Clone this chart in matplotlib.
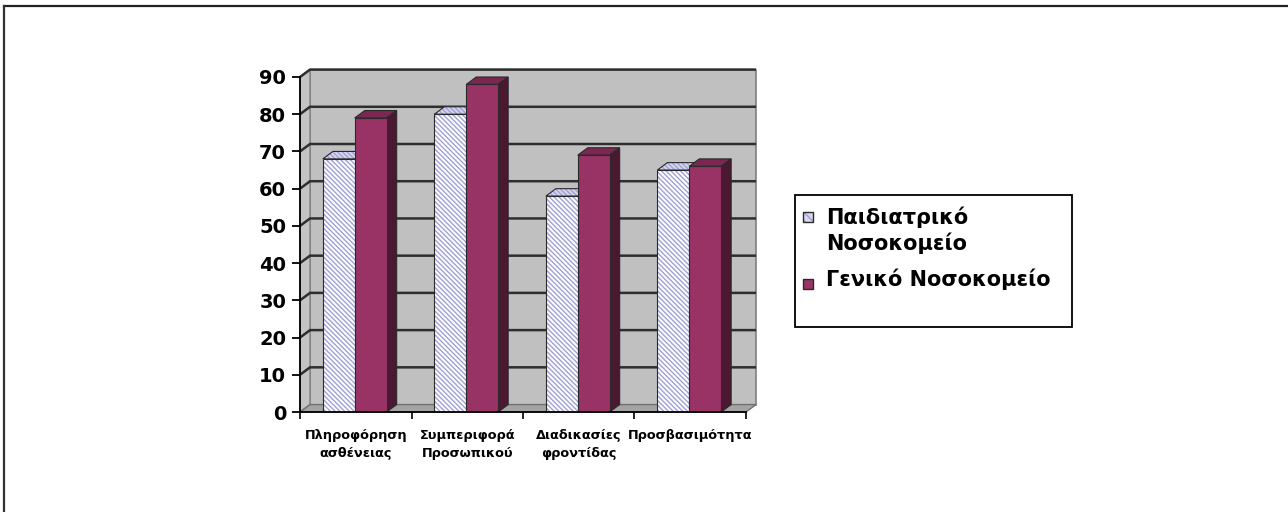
import matplotlib.pyplot as plt
from matplotlib.patches import Polygon, Rectangle
from matplotlib.lines import Line2D

categories = ["Πληροφόρηση\nασθένειας", "Συμπεριφορά\nΠροσωπικού",
              "Διαδικασίες\nφροντίδας", "Προσβασιμότητα"]
series_names = ["Παιδιατρικό\nΝοσοκομείο", "Γενικό Νοσοκομείο"]
paediatric = [68, 80, 58, 65]
general = [79, 88, 69, 66]
y_ticks = list(range(0, 100, 10))

W, H = 1288, 512
DX, DY = 0.09, 2.0          # depth offset of the 3D effect (data units)
BAR_W = 0.286
GAP = 0.205
HATCH = "\\" * 7

PAED_HATCH = "#a0a0d6"
GEN_FRONT, GEN_TOP, GEN_SIDE = "#993366", "#7a2852", "#4b1832"
EDGE = "#2a2a2a"


def fx(px):
    return px / W


def fy(py):
    return 1 - py / H


fig = plt.figure(figsize=(W / 100, H / 100), dpi=100)
ax = fig.add_axes([fx(300), fy(412), fx(746) - fx(300), fy(77) - fy(412)])
ax.set_xlim(0, 4)
ax.set_ylim(0, 90)
ax.patch.set_visible(False)

n = len(categories)
ymax = y_ticks[-1]

# walls and floor
ax.add_patch(Rectangle((DX, DY), n, ymax, fc="#c0c0c0", ec="#808080", lw=1.2,
                       zorder=0.5, clip_on=False))
ax.add_patch(Polygon([(0, 0), (DX, DY), (DX, ymax + DY), (0, ymax)], fc="#c4c4c4",
                     ec="#808080", lw=1.0, zorder=0.6, clip_on=False))
for v in y_ticks[1:]:
    ax.plot([0, DX, n + DX], [v, v + DY, v + DY], color="#2e2e2e", lw=1.8,
            zorder=1, clip_on=False, solid_capstyle="butt")
ax.add_patch(Polygon([(0, 0), (n, 0), (n + DX, DY), (DX, DY)], fc="#a4a4a4",
                     ec="#707070", lw=1.0, zorder=1.5, clip_on=False))


def add_faces(x0, h, top_kw, side_kw, z):
    top = [(x0, h), (x0 + BAR_W, h), (x0 + BAR_W + DX, h + DY), (x0 + DX, h + DY)]
    side = [(x0 + BAR_W, 0), (x0 + BAR_W + DX, DY), (x0 + BAR_W + DX, h + DY),
            (x0 + BAR_W, h)]
    ax.add_patch(Polygon(side, zorder=z, clip_on=False, **side_kw))
    ax.add_patch(Polygon(top, zorder=z, clip_on=False, **top_kw))
    for poly in (side, top):
        ax.add_patch(Polygon(poly, fill=False, ec=EDGE, lw=0.8, zorder=z + 0.1,
                             clip_on=False))


paed_x = [i + GAP for i in range(n)]
gen_x = [i + GAP + BAR_W for i in range(n)]

for i in range(n):
    add_faces(paed_x[i], paediatric[i],
              dict(fc="#d6d6ee", ec=PAED_HATCH, lw=0, hatch=HATCH),
              dict(fc="#d6d6ee", ec=PAED_HATCH, lw=0, hatch=HATCH), 3)
    add_faces(gen_x[i], general[i],
              dict(fc=GEN_TOP, lw=0), dict(fc=GEN_SIDE, lw=0), 5)

ax.bar(paed_x, paediatric, BAR_W, align="edge", color="white",
       edgecolor=PAED_HATCH, linewidth=0, hatch=HATCH, zorder=4)
ax.bar(paed_x, paediatric, BAR_W, align="edge", fill=False,
       edgecolor=EDGE, linewidth=0.8, zorder=4.1)
ax.bar(gen_x, general, BAR_W, align="edge", color=GEN_FRONT,
       edgecolor=EDGE, linewidth=0.8, zorder=6)

# axes
for s in ("top", "right"):
    ax.spines[s].set_visible(False)
for s in ("left", "bottom"):
    ax.spines[s].set_linewidth(1.3)
    ax.spines[s].set_color("black")
    ax.spines[s].set_zorder(7)

ax.set_yticks(y_ticks)
ax.set_yticklabels([str(v) for v in y_ticks], fontfamily="DejaVu Sans",
                   fontweight="bold", fontsize=14)
ax.tick_params(axis="y", length=6, width=1.3, pad=4)

ax.set_xticks(range(n + 1))
ax.set_xticklabels([""] * (n + 1))
ax.tick_params(axis="x", which="major", length=5, width=1.2)
ax.set_xticks([i + 0.5 for i in range(n)], minor=True)
ax.set_xticklabels(categories, minor=True, fontfamily="DejaVu Sans",
                   fontweight="bold", fontsize=9.3, linespacing=1.55)
ax.tick_params(axis="x", which="minor", length=0, pad=12)

# legend box
fig.add_artist(Rectangle((fx(795), fy(327)), fx(1072) - fx(795), fy(195) - fy(327),
                         transform=fig.transFigure, fill=False, ec="black", lw=1.3))
markers = [
    dict(fc="#d6d6ee", ec=PAED_HATCH, hatch="\\\\\\\\", lw=0),
    dict(fc=GEN_FRONT, lw=0),
]
marker_y = [217, 284]
text_y = [206, 268]
for name, mk, my, ty in zip(series_names, markers, marker_y, text_y):
    fig.add_artist(Rectangle((fx(803), fy(my + 5)), fx(813) - fx(803), fy(my - 5) - fy(my + 5),
                             transform=fig.transFigure, **mk))
    fig.add_artist(Rectangle((fx(803), fy(my + 5)), fx(813) - fx(803), fy(my - 5) - fy(my + 5),
                             transform=fig.transFigure, fill=False, ec=EDGE, lw=1))
    fig.text(fx(826), fy(ty), name, fontfamily="DejaVu Sans", fontweight="bold",
             fontsize=15, va="top", ha="left", linespacing=1.3)

# page frame
fig.add_artist(Line2D([fx(4), 1], [fy(6), fy(6)], transform=fig.transFigure,
                      color="#222222", lw=1.6))
fig.add_artist(Line2D([fx(4), fx(4)], [fy(6), 0], transform=fig.transFigure,
                      color="#333333", lw=1.6))

fig.savefig("out.png", dpi=100)
